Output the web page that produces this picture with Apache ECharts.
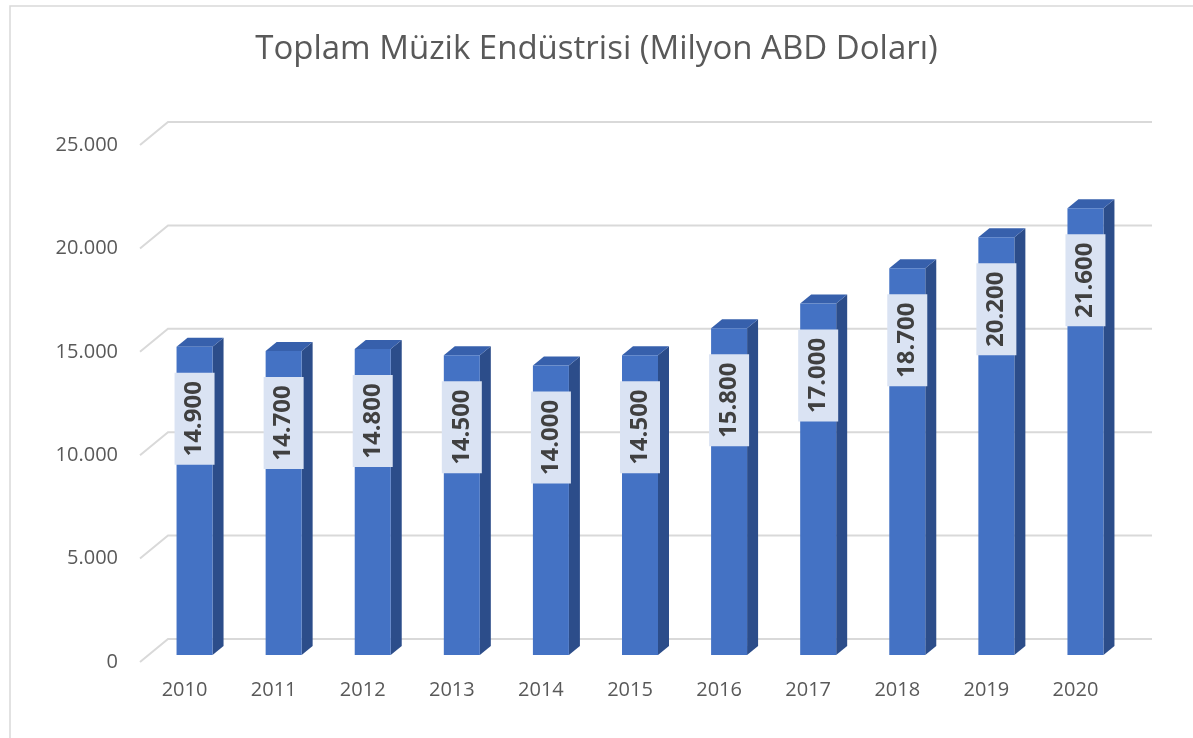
<!DOCTYPE html>
<html>
<head>
<meta charset="utf-8">
<script src="https://cdn.jsdelivr.net/npm/echarts@6/dist/echarts.min.js"></script>
<style>
  html, body { margin: 0; padding: 0; background: #fff; }
  #grafico { width: 1193px; height: 738px; }
</style>
</head>
<body>
<div id="grafico"></div>
<script>
// Datos del gráfico
var years = ["2010", "2011", "2012", "2013", "2014", "2015", "2016", "2017", "2018", "2019", "2020"];
var values = [14900, 14700, 14800, 14500, 14000, 14500, 15800, 17000, 18700, 20200, 21600];
var yTicks = [0, 5000, 10000, 15000, 20000, 25000];

function fmt(v) {
  return String(v).replace(/\B(?=(\d{3})+(?!\d))/g, ".");
}

var chart = echarts.init(document.getElementById("grafico"));

// barras "3D" al estilo Excel
function renderBar(params, api) {
  var i = api.value(0), v = api.value(1);
  var base = api.coord([i, 0]);
  var top = api.coord([i, v]);
  var cx = base[0] + 10, y0 = base[1] - 7, y1 = top[1] - 7;
  var hw = 18, dx = 11, dy = -9;
  return {
    type: "group",
    children: [
      {
        type: "polygon",
        shape: { points: [[cx + hw, y1], [cx + hw + dx, y1 + dy], [cx + hw + dx, y0 + dy], [cx + hw, y0]] },
        style: { fill: "#2C4D8A" }
      },
      {
        type: "polygon",
        shape: { points: [[cx - hw, y1], [cx - hw + dx, y1 + dy], [cx + hw + dx, y1 + dy], [cx + hw, y1]] },
        style: { fill: "#3760AC" }
      },
      {
        type: "rect",
        shape: { x: cx - hw, y: y1, width: hw * 2, height: y0 - y1 },
        style: { fill: "#4472C4" }
      },
      {
        type: "rect",
        shape: { x: cx - 20, y: y1 + 72 - 46, width: 40, height: 92 },
        style: { fill: "#DAE3F3" }
      },
      {
        type: "text",
        x: cx, y: y1 + 72,
        rotation: Math.PI / 2,
        style: {
          text: fmt(v),
          fill: "#404040",
          font: "bold 24px 'Open Sans'",
          align: "center",
          verticalAlign: "middle"
        }
      }
    ]
  };
}

// líneas de la cuadrícula en la pared trasera
function renderGrid(params, api) {
  var cs = params.coordSys;
  var y = api.coord([0, api.value(0)])[1];
  return {
    type: "polyline",
    shape: { points: [[cs.x, y], [cs.x + 28, y - 23], [cs.x + cs.width + 32, y - 23]] },
    style: { stroke: "#D9D9D9", lineWidth: 2, fill: null }
  };
}

var option = {
  animation: false,
  title: {
    text: "Toplam Müzik Endüstrisi (Milyon ABD Doları)",
    left: "center",
    top: 28,
    textStyle: { fontFamily: "Open Sans", fontSize: 33, fontWeight: "normal", color: "#595959" }
  },
  graphic: [
    {
      type: "rect",
      shape: { x: 10, y: 6, width: 1300, height: 900 },
      style: { fill: null, stroke: "#D9D9D9", lineWidth: 1.5 },
      silent: true
    }
  ],
  grid: { left: 140, right: 73, top: 145, bottom: 76 },
  xAxis: {
    type: "category",
    data: years,
    axisLine: { show: false },
    axisTick: { show: false },
    axisLabel: { color: "#595959", fontFamily: "Open Sans", fontSize: 20, margin: 18 }
  },
  yAxis: {
    type: "value",
    min: 0,
    max: 25000,
    interval: 5000,
    splitLine: { show: false },
    axisLine: { show: false },
    axisTick: { show: false },
    axisLabel: {
      color: "#595959", fontFamily: "Open Sans", fontSize: 20, margin: 22,
      formatter: function (v) { return fmt(v); }
    }
  },
  series: [
    {
      type: "custom",
      renderItem: renderGrid,
      data: yTicks.map(function (t) { return [t]; }),
      encode: { y: 0 },
      z: 1,
      silent: true
    },
    {
      type: "custom",
      renderItem: renderBar,
      data: values.map(function (v, i) { return [i, v]; }),
      encode: { x: 0, y: 1 },
      z: 2
    }
  ]
};

chart.setOption(option);
</script>
</body>
</html>
